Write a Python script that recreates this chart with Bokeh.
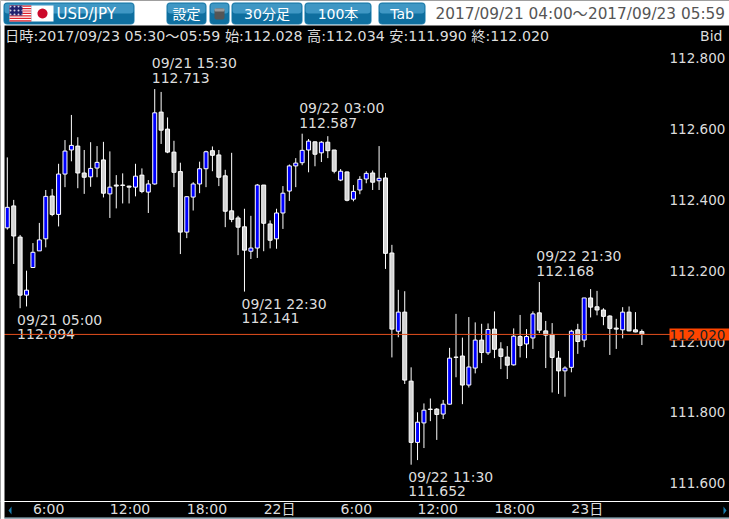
import math
from bokeh.plotting import figure
from bokeh.embed import file_html
from bokeh.resources import INLINE
from bokeh.core.properties import value
from bokeh.models import (BoxAnnotation, ColumnDataSource, FixedTicker, Label, PolyAnnotation, Span)

highs = [112.520,112.400,112.301,112.200,112.278,112.335,112.428,112.431,112.502,112.569,
         112.640,112.577,112.541,112.563,112.552,112.564,112.537,112.470,112.475,112.440,
         112.502,112.489,112.456,112.713,112.705,112.633,112.567,112.505,112.410,112.450,
         112.508,112.539,112.551,112.541,112.485,112.533,112.355,112.375,112.355,112.445,
         112.442,112.342,112.375,112.439,112.500,112.518,112.587,112.572,112.565,112.566,
         112.580,112.541,112.487,112.480,112.442,112.467,112.481,112.483,112.552,112.476,
         112.273,112.146,112.142,111.927,111.800,111.825,111.839,111.812,111.835,111.982,
         112.078,112.011,112.069,112.054,112.050,112.051,112.085,111.998,111.987,112.037,
         112.075,112.035,112.085,112.168,112.058,112.052,111.973,111.930,112.033,112.050,
         112.123,112.148,112.143,112.094,112.074,112.064,112.097,112.099,112.083,112.034]
lows = [112.316,112.219,112.094,112.099,112.208,112.256,112.266,112.354,112.325,112.436,
        112.509,112.433,112.417,112.437,112.464,112.407,112.349,112.376,112.390,112.390,
        112.410,112.419,112.363,112.443,112.558,112.532,112.436,112.247,112.292,112.370,
        112.419,112.436,112.481,112.439,112.323,112.337,112.244,112.141,112.233,112.236,
        112.255,112.263,112.262,112.318,112.397,112.436,112.498,112.478,112.495,112.507,
        112.518,112.475,112.453,112.396,112.396,112.416,112.447,112.428,112.428,112.205,
        111.955,112.012,111.880,111.652,111.665,111.699,111.775,111.722,111.781,111.822,
        111.899,111.823,111.870,111.910,111.939,111.962,111.953,111.922,111.894,111.932,
        111.955,111.953,111.979,112.024,111.925,111.856,111.852,111.844,111.913,111.965,
        111.984,112.068,112.074,112.046,111.962,111.979,112.009,112.029,112.026,111.990]
opens = [112.321,112.383,112.295,112.131,112.209,112.256,112.290,112.411,112.359,112.473,
         112.541,112.552,112.476,112.465,112.490,112.513,112.417,112.442,112.442,112.439,
         112.436,112.470,112.422,112.445,112.648,112.600,112.535,112.480,112.309,112.408,
         112.445,112.488,112.539,112.527,112.468,112.369,112.349,112.324,112.255,112.264,
         112.442,112.332,112.290,112.363,112.425,112.496,112.505,112.541,112.564,112.533,
         112.563,112.541,112.456,112.479,112.402,112.428,112.459,112.476,112.454,112.462,
         112.250,112.029,112.083,111.888,111.715,111.770,111.809,111.809,111.795,111.823,
         111.956,111.959,111.877,111.925,112.004,111.968,112.035,111.979,111.956,111.934,
         112.014,111.993,112.010,112.081,112.030,112.020,111.953,111.917,111.927,112.033,
         112.004,112.123,112.098,112.089,112.072,112.038,112.033,112.083,112.033,112.028]
closes = [112.379,112.298,112.131,112.145,112.252,112.287,112.410,112.359,112.473,112.538,
          112.554,112.476,112.464,112.489,112.506,112.419,112.436,112.439,112.441,112.436,
          112.467,112.424,112.445,112.646,112.597,112.535,112.478,112.309,112.409,112.445,
          112.488,112.536,112.526,112.464,112.368,112.345,112.323,112.258,112.264,112.442,
          112.334,112.286,112.363,112.419,112.496,112.504,112.540,112.566,112.529,112.563,
          112.539,112.481,112.481,112.399,112.424,112.458,112.475,112.450,112.461,112.249,
          112.035,112.083,111.891,111.715,111.772,111.806,111.808,111.794,111.823,111.953,
          111.955,111.877,111.928,112.004,111.969,112.034,111.978,111.958,111.933,112.015,
          111.989,112.014,112.078,112.032,112.018,111.955,111.917,111.925,112.029,112.000,
          112.123,112.097,112.089,112.071,112.037,112.035,112.083,112.030,112.027,112.020]

y_ticks = [111.6, 111.8, 112.0, 112.2, 112.4, 112.6, 112.8]
x_ticks = [4, 16, 28, 40, 52, 64, 76, 88]
x_tick_labels = ["6:00", "12:00", "18:00", "22日", "6:00", "12:00", "18:00", "23日"]
last_price = 112.020

note_idx = [23, 46, 83, 2, 37, 63]
note_text = ["09/21 15:30\n112.713", "09/22 03:00\n112.587", "09/22 21:30\n112.168",
             "09/21 05:00\n112.094", "09/21 22:30\n112.141", "09/22 11:30\n111.652"]
header = "日時:2017/09/23 05:30～05:59 始:112.028 高:112.034 安:111.990 終:112.020"
span_text = "2017/09/21 04:00～2017/09/23 05:59"
buttons = [("設定", 166, 206), ("", 209, 229), ("30分足", 231, 302), ("100本", 304, 371), ("Tab", 378, 425)]

FONT = "DejaVu Sans, Noto Sans CJK JP"
PX_PER_BAR = 6.41
PX_PER_UNIT = 354.0
def dx(px): return (px - 6.8) / PX_PER_BAR
def dy(py): return 112.0 + (341.0 - py) / PX_PER_UNIT

p = figure(width=729, height=519, output_backend="svg", toolbar_location=None,
           x_range=(dx(0), dx(729)), y_range=(dy(519), dy(0)),
           x_axis_location="below", y_axis_location="right",
           min_border=0,
           background_fill_color="black", border_fill_color="white", outline_line_color=None)
p.grid.visible = False

def box(l, r, t, b, color, level="overlay", radius=0, line=None, **kw):
    p.add_layout(BoxAnnotation(left=dx(l), right=dx(r), top=dy(t), bottom=dy(b), fill_color=color,
                               fill_alpha=1.0, line_color=line, level=level, border_radius=radius,
                               editable=False, **kw))

def label(px, py, text, color, size="14px", align="left"):
    p.add_layout(Label(x=dx(px), y=dy(py), text=text, text_color=color, text_font=FONT,
                       text_font_size=size, text_align=align, text_baseline="middle", level="overlay"))

# candles
src = ColumnDataSource(dict(x=list(range(len(opens))), h=highs, l=lows,
                            top=[max(o, c) for o, c in zip(opens, closes)],
                            bot=[min(o, c) for o, c in zip(opens, closes)],
                            col=["#0000ff" if c > o else "#d3d3d3" for o, c in zip(opens, closes)]))
p.segment("x", "h", "x", "l", source=src, line_color="white", line_width=1)
p.vbar("x", 0.62, "top", "bot", source=src, fill_color="col", line_color="white", line_width=1)

# high / low notes
for k, (i, t) in enumerate(zip(note_idx, note_text)):
    a, b = t.split("\n")
    if k < 3:
        ys, off = highs[i], (-26, -11)
    else:
        ys, off = lows[i], (12, 26)
    for txt, o in zip((a, b), off):
        p.text([i], [ys], text=[txt], x_offset=-3, y_offset=o, text_color="#dddddd",
               text_font=value(FONT), text_font_size="14px", text_baseline="middle", text_align="left")

# axes drawn inside the canvas-filling frame
ya = p.yaxis[0]
ya.fixed_location = dx(659)
ya.ticker = FixedTicker(ticks=y_ticks)
ya.major_label_overrides = {v: f"{v:.3f}" for v in y_ticks}
ya.major_label_text_color = "#dddddd"
ya.major_label_text_font = FONT
ya.major_label_text_font_size = "13.5px"
ya.major_label_standoff = 4
ya.major_tick_line_color = None
ya.minor_tick_line_color = None
ya.axis_line_color = None

xa = p.xaxis[0]
xa.fixed_location = dy(501)
xa.ticker = FixedTicker(ticks=x_ticks)
xa.major_label_overrides = dict(zip(x_ticks, x_tick_labels))
xa.major_label_orientation = -0.0001
xa.major_label_text_color = "#dddddd"
xa.major_label_text_font = FONT
xa.major_label_text_font_size = "14px"
xa.major_label_standoff = 1
xa.major_tick_line_color = None
xa.minor_tick_line_color = None
xa.axis_line_color = "white"

# price line
p.add_layout(Span(location=last_price, dimension="width", line_color="#e5501e", line_width=1))

# white page round the black panel
box(0, 729, 0, 25, "white")
box(0, 4, 0, 519, "white")
box(0, 729, 518, 519, "white")

# header texts
label(4.5, 35, header, "#dddddd", size="14.2px")
label(722, 35, "Bid", "#dddddd", align="right")
label(435, 13, span_text, "#555555", size="15.3px", align="left")

# top bar buttons
def button(l, r, text):
    box(l, r, 2, 24, "#0f6f9f", radius=4, line="#8cc6e2")
    box(l + 1, r - 1, 3, 13, "#3f97c4", radius=3)
    if text:
        label((l + r) / 2, 13, text, "white", align="center")

button(3, 134, "")
label(56, 13, "USD/JPY", "white", size="15px")
for text, l, r in buttons:
    button(l, r, text)
box(214, 224, 8, 19, "#555555", radius=2)
box(214, 224, 8, 11, "#999999", radius=1)

# flags
box(9, 31, 5, 21, "white")
for n in range(7):
    box(9, 31, 5 + n * 2.45, 6.2 + n * 2.45, "#e0202a")
box(9, 22, 5, 15, "#20206e", hatch_pattern="dot", hatch_color="white", hatch_scale=4, hatch_alpha=0.8)
box(31, 53, 5, 21, "white")
cx, cy, rad = 42, 13, 5
angles = [k * math.pi / 12 for k in range(24)]
p.add_layout(PolyAnnotation(xs=[dx(cx + rad * math.cos(a)) for a in angles],
                            ys=[dy(cy + rad * math.sin(a)) for a in angles],
                            fill_color="#cc0a2b", fill_alpha=1, line_color=None, level="overlay", editable=False))

# price box
box(669, 729, 328, 340, "#ff4500")
label(669, 334, f"{last_price:.3f}", "#222222", size="13.5px")

# bottom strip details
box(4, 729, 517, 518, "#a9cfe3")
for tip, base in ((8, 11), (726, 723)):
    p.add_layout(PolyAnnotation(xs=[dx(tip), dx(base), dx(base)], ys=[dy(510), dy(506), dy(514)],
                                fill_color="#1a7fb0", fill_alpha=1, line_color=None, level="overlay", editable=False))

html = file_html(p, INLINE, "chart").replace("<body>", '<body style="margin:0;overflow:hidden">')
open("out.html", "w").write(html)
